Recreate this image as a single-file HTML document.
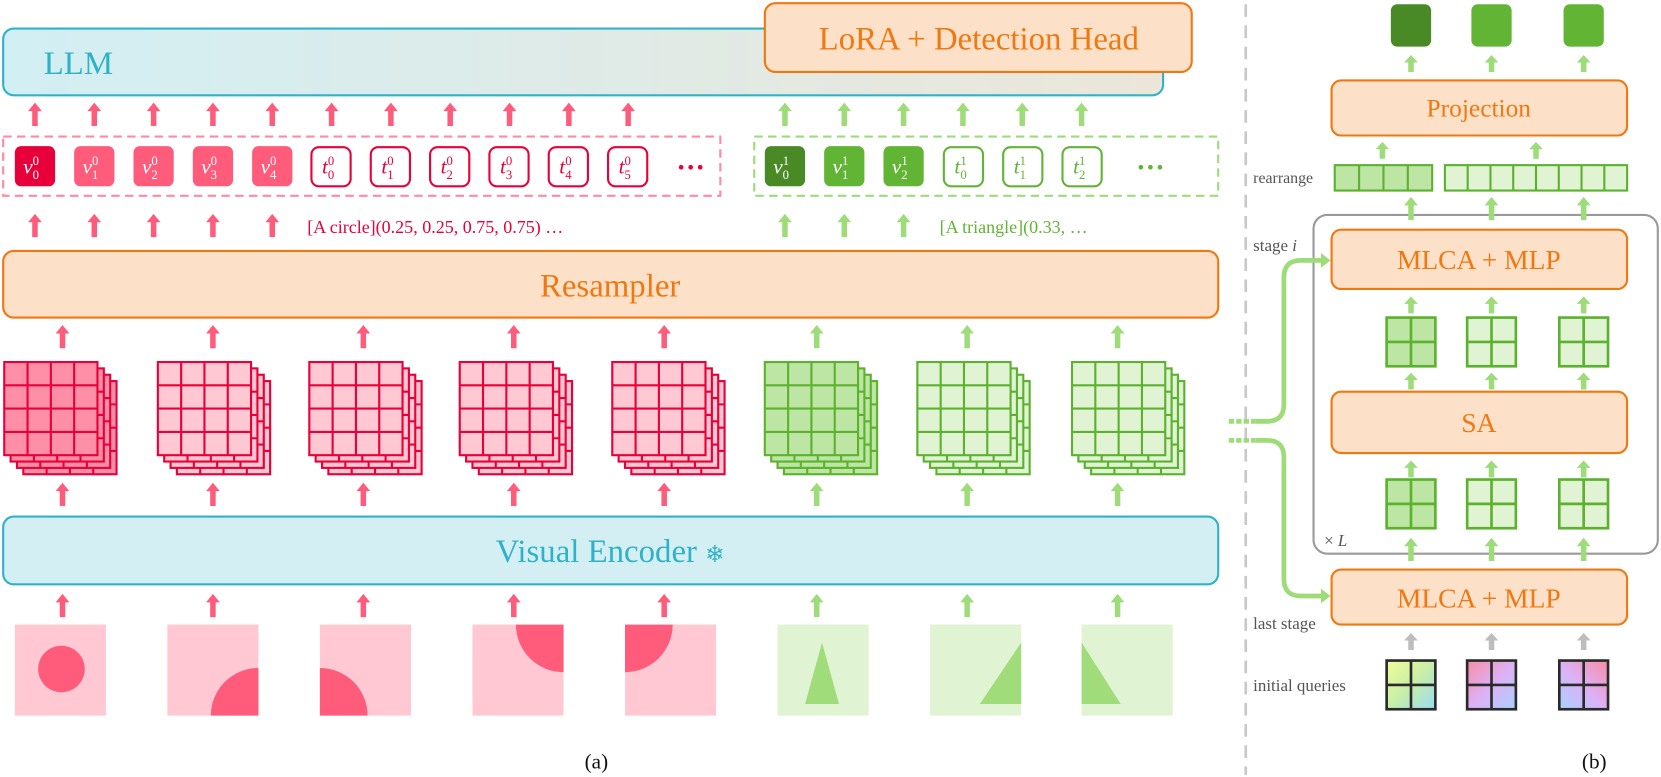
<!DOCTYPE html>
<html><head><meta charset="utf-8"><style>
html,body{margin:0;padding:0;background:#fff;}
svg{display:block;}
text{font-family:"Liberation Serif","DejaVu Serif",serif;}
</style></head><body>
<svg width="1661" height="777" viewBox="0 0 1568 734" preserveAspectRatio="none" xmlns="http://www.w3.org/2000/svg">
<defs>
<linearGradient id="llmg" x1="0" x2="1" y1="0" y2="0"><stop offset="0" stop-color="#d2eff4"/><stop offset="1" stop-color="#ece6da"/></linearGradient>
<linearGradient id="q1" x1="0" y1="0" x2="1" y2="1"><stop offset="0" stop-color="#f0fc98"/><stop offset="0.5" stop-color="#c8eea8"/><stop offset="1" stop-color="#98dcf2"/></linearGradient>
<linearGradient id="q2" x1="0" y1="0" x2="1" y2="1"><stop offset="0" stop-color="#f78ca4"/><stop offset="0.5" stop-color="#deb0f4"/><stop offset="1" stop-color="#a6d2ff"/></linearGradient>
<linearGradient id="q3" x1="0" y1="1" x2="1" y2="0"><stop offset="0" stop-color="#a6d2ff"/><stop offset="0.5" stop-color="#deb0f4"/><stop offset="1" stop-color="#f78ca4"/></linearGradient>
<polygon id="arr" points="0,0 6.5,8 2.6,8 2.6,22 -2.6,22 -2.6,8 -6.5,8"/>
<polygon id="arrS" points="0,0 6.5,7 2.6,7 2.6,16 -2.6,16 -2.6,7 -6.5,7"/>
<g id="g4"><rect x="0" y="0" width="88" height="88" stroke-width="2"/>
<path d="M22,0V88M44,0V88M66,0V88M0,22H88M0,44H88M0,66H88" fill="none" stroke-width="2"/></g>
<g id="stk"><use href="#g4" x="18" y="18"/><use href="#g4" x="12" y="12"/><use href="#g4" x="6" y="6"/><use href="#g4" x="0" y="0"/></g>
<g id="g2"><rect x="0" y="0" width="46" height="46" stroke-width="2.5"/><path d="M23,0V46M0,23H46" fill="none" stroke-width="2.5"/></g>
</defs>

<rect x="3" y="27" width="1095" height="63" rx="10" fill="url(#llmg)" stroke="#2fb2c7" stroke-width="2"/>
<text x="74" y="70" font-size="31" fill="#2fb2c7" text-anchor="middle">LLM</text>
<rect x="722" y="3" width="403" height="65" rx="10" fill="#fde0c8" stroke="#f07810" stroke-width="2"/>
<text x="924" y="47" font-size="31" fill="#f07810" text-anchor="middle">LoRA + Detection Head</text>

<g fill="#ff5c7c">
<use href="#arr" x="33" y="97"/><use href="#arr" x="89" y="97"/><use href="#arr" x="145" y="97"/><use href="#arr" x="201" y="97"/><use href="#arr" x="257" y="97"/><use href="#arr" x="313" y="97"/><use href="#arr" x="369" y="97"/><use href="#arr" x="425" y="97"/><use href="#arr" x="481" y="97"/><use href="#arr" x="537" y="97"/><use href="#arr" x="593" y="97"/>
</g>
<g fill="#9edc7a">
<use href="#arr" x="741" y="97"/><use href="#arr" x="797" y="97"/><use href="#arr" x="853" y="97"/><use href="#arr" x="909" y="97"/><use href="#arr" x="965" y="97"/><use href="#arr" x="1021" y="97"/>
</g>

<rect x="3" y="129" width="677" height="56" fill="none" stroke="#ff8aa2" stroke-width="2" stroke-dasharray="8,5"/>
<rect x="712" y="129" width="438" height="56" fill="none" stroke="#9edc7a" stroke-width="2" stroke-dasharray="8,5"/>
<g font-size="20" font-style="italic">
<rect x="14" y="138" width="38" height="38" rx="6" fill="#e8003a"/>
<rect x="70" y="138" width="38" height="38" rx="6" fill="#ff5c7c"/>
<rect x="126" y="138" width="38" height="38" rx="6" fill="#ff5c7c"/>
<rect x="182" y="138" width="38" height="38" rx="6" fill="#ff5c7c"/>
<rect x="238" y="138" width="38" height="38" rx="6" fill="#ff5c7c"/>
<g fill="#fff" stroke="#e8003a" stroke-width="2">
<rect x="294" y="139" width="37" height="37" rx="7"/><rect x="350" y="139" width="37" height="37" rx="7"/><rect x="406" y="139" width="37" height="37" rx="7"/><rect x="462" y="139" width="37" height="37" rx="7"/><rect x="518" y="139" width="37" height="37" rx="7"/><rect x="574" y="139" width="37" height="37" rx="7"/>
</g>
<rect x="722" y="138" width="38" height="38" rx="6" fill="#4a8a26"/>
<rect x="778" y="138" width="38" height="38" rx="6" fill="#62b434"/>
<rect x="834" y="138" width="38" height="38" rx="6" fill="#62b434"/>
<g fill="#fff" stroke="#62b434" stroke-width="2">
<rect x="891" y="139" width="37" height="37" rx="7"/><rect x="947" y="139" width="37" height="37" rx="7"/><rect x="1003" y="139" width="37" height="37" rx="7"/>
</g>
<g fill="#fff">
<text x="22" y="164">v<tspan font-size="12" font-style="normal" dy="-8">0</tspan><tspan font-size="12" font-style="normal" dx="-6" dy="13">0</tspan></text>
<text x="78" y="164">v<tspan font-size="12" font-style="normal" dy="-8">0</tspan><tspan font-size="12" font-style="normal" dx="-6" dy="13">1</tspan></text>
<text x="134" y="164">v<tspan font-size="12" font-style="normal" dy="-8">0</tspan><tspan font-size="12" font-style="normal" dx="-6" dy="13">2</tspan></text>
<text x="190" y="164">v<tspan font-size="12" font-style="normal" dy="-8">0</tspan><tspan font-size="12" font-style="normal" dx="-6" dy="13">3</tspan></text>
<text x="246" y="164">v<tspan font-size="12" font-style="normal" dy="-8">0</tspan><tspan font-size="12" font-style="normal" dx="-6" dy="13">4</tspan></text>
<text x="730" y="164">v<tspan font-size="12" font-style="normal" dy="-8">1</tspan><tspan font-size="12" font-style="normal" dx="-6" dy="13">0</tspan></text>
<text x="786" y="164">v<tspan font-size="12" font-style="normal" dy="-8">1</tspan><tspan font-size="12" font-style="normal" dx="-6" dy="13">1</tspan></text>
<text x="842" y="164">v<tspan font-size="12" font-style="normal" dy="-8">1</tspan><tspan font-size="12" font-style="normal" dx="-6" dy="13">2</tspan></text>
</g>
<g fill="#e8003a">
<text x="304" y="164">t<tspan font-size="12" font-style="normal" dy="-8">0</tspan><tspan font-size="12" font-style="normal" dx="-6" dy="13">0</tspan></text>
<text x="360" y="164">t<tspan font-size="12" font-style="normal" dy="-8">0</tspan><tspan font-size="12" font-style="normal" dx="-6" dy="13">1</tspan></text>
<text x="416" y="164">t<tspan font-size="12" font-style="normal" dy="-8">0</tspan><tspan font-size="12" font-style="normal" dx="-6" dy="13">2</tspan></text>
<text x="472" y="164">t<tspan font-size="12" font-style="normal" dy="-8">0</tspan><tspan font-size="12" font-style="normal" dx="-6" dy="13">3</tspan></text>
<text x="528" y="164">t<tspan font-size="12" font-style="normal" dy="-8">0</tspan><tspan font-size="12" font-style="normal" dx="-6" dy="13">4</tspan></text>
<text x="584" y="164">t<tspan font-size="12" font-style="normal" dy="-8">0</tspan><tspan font-size="12" font-style="normal" dx="-6" dy="13">5</tspan></text>
</g>
<g fill="#62b434">
<text x="901" y="164">t<tspan font-size="12" font-style="normal" dy="-8">1</tspan><tspan font-size="12" font-style="normal" dx="-6" dy="13">0</tspan></text>
<text x="957" y="164">t<tspan font-size="12" font-style="normal" dy="-8">1</tspan><tspan font-size="12" font-style="normal" dx="-6" dy="13">1</tspan></text>
<text x="1013" y="164">t<tspan font-size="12" font-style="normal" dy="-8">1</tspan><tspan font-size="12" font-style="normal" dx="-6" dy="13">2</tspan></text>
</g>
</g>
<g fill="#e8003a"><circle cx="643" cy="158" r="2.2"/><circle cx="652" cy="158" r="2.2"/><circle cx="661" cy="158" r="2.2"/></g>
<g fill="#62b434"><circle cx="1077" cy="158" r="2.2"/><circle cx="1086" cy="158" r="2.2"/><circle cx="1095" cy="158" r="2.2"/></g>

<g fill="#ff5c7c"><use href="#arr" x="33" y="202"/><use href="#arr" x="89" y="202"/><use href="#arr" x="145" y="202"/><use href="#arr" x="201" y="202"/><use href="#arr" x="257" y="202"/></g>
<g fill="#9edc7a"><use href="#arr" x="741" y="202"/><use href="#arr" x="797" y="202"/><use href="#arr" x="853" y="202"/></g>
<text x="290" y="220" font-size="17" fill="#e8003a">[A circle](0.25, 0.25, 0.75, 0.75) …</text>
<text x="887" y="220" font-size="17" fill="#62b434">[A triangle](0.33, …</text>

<rect x="3" y="237" width="1147" height="63" rx="10" fill="#fde0c8" stroke="#f07810" stroke-width="2"/>
<text x="576" y="280" font-size="31" fill="#f07810" text-anchor="middle">Resampler</text>

<g fill="#ff5c7c"><use href="#arr" x="59" y="307"/><use href="#arr" x="201" y="307"/><use href="#arr" x="343" y="307"/><use href="#arr" x="485" y="307"/><use href="#arr" x="627" y="307"/></g>
<g fill="#9edc7a"><use href="#arr" x="771" y="307"/><use href="#arr" x="913" y="307"/><use href="#arr" x="1055" y="307"/></g>

<use href="#stk" x="4" y="342" fill="#ff8fa6" stroke="#e8003a"/>
<use href="#stk" x="149" y="342" fill="#ffc8d3" stroke="#e8003a"/>
<use href="#stk" x="292" y="342" fill="#ffc8d3" stroke="#e8003a"/>
<use href="#stk" x="434" y="342" fill="#ffc8d3" stroke="#e8003a"/>
<use href="#stk" x="578" y="342" fill="#ffc8d3" stroke="#e8003a"/>
<use href="#stk" x="722" y="342" fill="#bde5a3" stroke="#5cb22e"/>
<use href="#stk" x="866" y="342" fill="#e0f3d3" stroke="#5cb22e"/>
<use href="#stk" x="1012" y="342" fill="#e0f3d3" stroke="#5cb22e"/>

<g fill="#ff5c7c"><use href="#arr" x="59" y="456"/><use href="#arr" x="201" y="456"/><use href="#arr" x="343" y="456"/><use href="#arr" x="485" y="456"/><use href="#arr" x="627" y="456"/></g>
<g fill="#9edc7a"><use href="#arr" x="771" y="456"/><use href="#arr" x="913" y="456"/><use href="#arr" x="1055" y="456"/></g>

<rect x="3" y="488" width="1147" height="64" rx="10" fill="#d3eff3" stroke="#2fb2c7" stroke-width="2"/>
<text x="576" y="531" font-size="31" fill="#2fb2c7" text-anchor="middle">Visual Encoder <tspan font-family="DejaVu Sans,sans-serif" font-size="22">❄</tspan></text>

<g fill="#ff5c7c"><use href="#arr" x="59" y="561"/><use href="#arr" x="201" y="561"/><use href="#arr" x="343" y="561"/><use href="#arr" x="485" y="561"/><use href="#arr" x="627" y="561"/></g>
<g fill="#9edc7a"><use href="#arr" x="771" y="561"/><use href="#arr" x="913" y="561"/><use href="#arr" x="1055" y="561"/></g>

<g>
<rect x="14" y="590" width="86" height="86" fill="#ffc8d3"/>
<circle cx="58" cy="632" r="22" fill="#ff5c7c"/>
<rect x="158" y="590" width="86" height="86" fill="#ffc8d3"/>
<path d="M244,676 L199,676 A45,45 0 0 1 244,631 Z" fill="#ff5c7c"/>
<rect x="302" y="590" width="86" height="86" fill="#ffc8d3"/>
<path d="M302,676 L302,631 A45,45 0 0 1 347,676 Z" fill="#ff5c7c"/>
<rect x="446" y="590" width="86" height="86" fill="#ffc8d3"/>
<path d="M532,590 L487,590 A45,45 0 0 0 532,635 Z" fill="#ff5c7c"/>
<rect x="590" y="590" width="86" height="86" fill="#ffc8d3"/>
<path d="M590,590 L635,590 A45,45 0 0 1 590,635 Z" fill="#ff5c7c"/>
<rect x="734" y="590" width="86" height="86" fill="#e0f3d3"/>
<polygon points="776,607 760,665 792,665" fill="#a0dc7a"/>
<rect x="878" y="590" width="86" height="86" fill="#e0f3d3"/>
<polygon points="964,607 964,665 925,665" fill="#a0dc7a"/>
<rect x="1021" y="590" width="86" height="86" fill="#e0f3d3"/>
<polygon points="1021,607 1021,665 1058,665" fill="#a0dc7a"/>
</g>
<text x="563" y="726" font-size="20" text-anchor="middle" fill="#111">(a)</text>

<line x1="1176" y1="4" x2="1176" y2="732" stroke="#c8c8c8" stroke-width="2.5" stroke-dasharray="12,8"/>

<rect x="1313" y="4" width="38" height="40" rx="6" fill="#4a8a26"/>
<rect x="1389" y="4" width="38" height="40" rx="6" fill="#62b434"/>
<rect x="1476" y="4" width="38" height="40" rx="6" fill="#62b434"/>
<g fill="#9edc7a"><use href="#arrS" x="1332" y="52"/><use href="#arrS" x="1408" y="52"/><use href="#arrS" x="1495" y="52"/></g>
<rect x="1257" y="76" width="279" height="52" rx="9" fill="#fde0c8" stroke="#f07810" stroke-width="2"/>
<text x="1396" y="110" font-size="24" fill="#f07810" text-anchor="middle">Projection</text>
<g fill="#9edc7a"><use href="#arrS" x="1305" y="134"/><use href="#arrS" x="1450" y="134"/></g>
<text x="1183" y="173" font-size="15" fill="#555">rearrange</text>
<rect x="1260" y="156" width="92" height="24" fill="#bde5a3" stroke="#5cb22e" stroke-width="2"/>
<path d="M1283,156V180M1306,156V180M1329,156V180" stroke="#5cb22e" stroke-width="2"/>
<rect x="1364" y="156" width="172" height="24" fill="#e0f3d3" stroke="#5cb22e" stroke-width="2"/>
<path d="M1385.5,156V180M1407,156V180M1428.5,156V180M1450,156V180M1471.5,156V180M1493,156V180M1514.5,156V180" stroke="#5cb22e" stroke-width="2"/>
<rect x="1240" y="203" width="325" height="320" rx="13" fill="none" stroke="#9a9a9a" stroke-width="2"/>
<g fill="#9edc7a"><use href="#arr" x="1332" y="186"/><use href="#arr" x="1408" y="186"/><use href="#arr" x="1495" y="186"/></g>
<text x="1183" y="237" font-size="16" fill="#555">stage <tspan font-style="italic">i</tspan></text>
<rect x="1257" y="217" width="279" height="56" rx="9" fill="#fde0c8" stroke="#f07810" stroke-width="2"/>
<text x="1396" y="254" font-size="26" fill="#f07810" text-anchor="middle">MLCA + MLP</text>
<g fill="#9edc7a"><use href="#arrS" x="1332" y="280"/><use href="#arrS" x="1408" y="280"/><use href="#arrS" x="1495" y="280"/></g>
<use href="#g2" x="1309" y="300" fill="#bde5a3" stroke="#5cb22e"/>
<use href="#g2" x="1385" y="300" fill="#e0f3d3" stroke="#5cb22e"/>
<use href="#g2" x="1472" y="300" fill="#e0f3d3" stroke="#5cb22e"/>
<g fill="#9edc7a"><use href="#arrS" x="1332" y="352"/><use href="#arrS" x="1408" y="352"/><use href="#arrS" x="1495" y="352"/></g>
<rect x="1257" y="370" width="279" height="58" rx="9" fill="#fde0c8" stroke="#f07810" stroke-width="2"/>
<text x="1396" y="408" font-size="26" fill="#f07810" text-anchor="middle">SA</text>
<g fill="#9edc7a"><use href="#arrS" x="1332" y="435"/><use href="#arrS" x="1408" y="435"/><use href="#arrS" x="1495" y="435"/></g>
<use href="#g2" x="1309" y="453" fill="#bde5a3" stroke="#5cb22e"/>
<use href="#g2" x="1385" y="453" fill="#e0f3d3" stroke="#5cb22e"/>
<use href="#g2" x="1472" y="453" fill="#e0f3d3" stroke="#5cb22e"/>
<text x="1250" y="516" font-size="16" fill="#555">× <tspan font-style="italic">L</tspan></text>
<g fill="#9edc7a"><use href="#arr" x="1332" y="508"/><use href="#arr" x="1408" y="508"/><use href="#arr" x="1495" y="508"/></g>
<rect x="1257" y="538" width="279" height="52" rx="9" fill="#fde0c8" stroke="#f07810" stroke-width="2"/>
<text x="1396" y="574" font-size="26" fill="#f07810" text-anchor="middle">MLCA + MLP</text>
<text x="1183" y="594" font-size="16" fill="#555">last stage</text>
<g fill="#bdbdbd"><use href="#arrS" x="1332" y="598"/><use href="#arrS" x="1408" y="598"/><use href="#arrS" x="1495" y="598"/></g>
<text x="1183" y="653" font-size="16" fill="#555">initial queries</text>
<use href="#g2" x="1309" y="624" fill="url(#q1)" stroke="#2a2a2a"/>
<use href="#g2" x="1385" y="624" fill="url(#q2)" stroke="#2a2a2a"/>
<use href="#g2" x="1472" y="624" fill="url(#q3)" stroke="#2a2a2a"/>

<g fill="none" stroke="#9edc7a" stroke-width="4.5">
<path d="M1160,398H1185" stroke-dasharray="5,2"/>
<path d="M1185,398H1196Q1212,398 1212,382V262Q1212,246 1228,246H1248"/>
<path d="M1160,416H1185" stroke-dasharray="5,2"/>
<path d="M1185,416H1196Q1212,416 1212,432V547Q1212,563 1228,563H1248"/>
</g>
<g fill="#9edc7a"><polygon points="1256,246 1247,239 1247,253"/><polygon points="1256,563 1247,556 1247,570"/></g>

<text x="1505" y="726" font-size="20" text-anchor="middle" fill="#111">(b)</text>
</svg>
</body></html>
